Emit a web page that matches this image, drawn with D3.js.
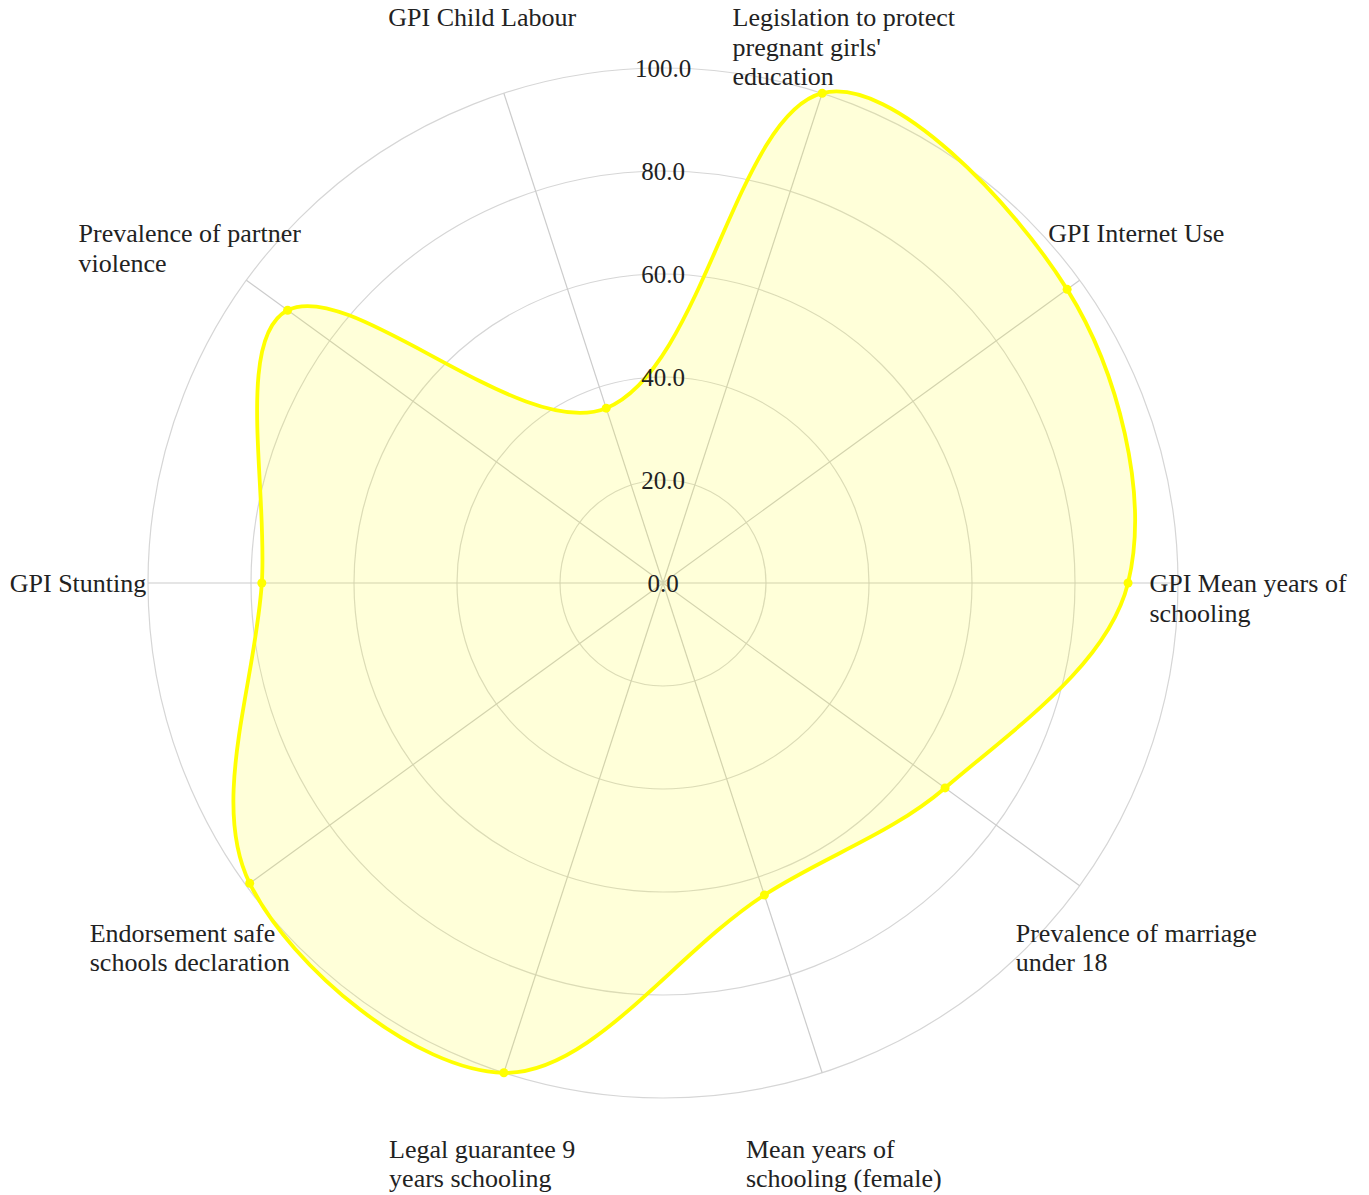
<!DOCTYPE html>
<html>
<head>
<meta charset="utf-8">
<script src="https://cdn.jsdelivr.net/npm/d3@7"></script>
<style>
  html, body { margin: 0; padding: 0; background: #ffffff; }
  svg { display: block; }
</style>
</head>
<body>
<svg id="chart" width="1369" height="1195"></svg>
<script>
// ---- data ----
const categories = [
  ["Legislation to protect", "pregnant girls'", "education"],
  ["GPI Internet Use"],
  ["GPI Mean years of", "schooling"],
  ["Prevalence of marriage", "under 18"],
  ["Mean years of", "schooling (female)"],
  ["Legal guarantee 9", "years schooling"],
  ["Endorsement safe", "schools declaration"],
  ["GPI Stunting"],
  ["Prevalence of partner", "violence"],
  ["GPI Child Labour"]
];
const values = [100, 97, 90.3, 67.7, 63.7, 100, 99.2, 77.9, 90.1, 35.7];
const tickValues = [0, 20, 40, 60, 80, 100];
const tickLabels = ["0.0", "20.0", "40.0", "60.0", "80.0", "100.0"];

// ---- layout ----
const W = 1369, H = 1195;
const cx = 663, cy = 583, R = 515;
const startAngle = 18 * Math.PI / 180;
const n = categories.length;
const font = "'Liberation Serif', 'Times New Roman', serif";

const svg = d3.select("#chart");
const g = svg.append("g").attr("transform", `translate(${cx},${cy})`);

const r = d3.scaleLinear().domain([0, 100]).range([0, R]);
const angle = i => startAngle + i * 2 * Math.PI / n; // clockwise from north
const px = (i, v) => r(v) * Math.sin(angle(i));
const py = (i, v) => -r(v) * Math.cos(angle(i));

// grid circles
g.append("g").selectAll("circle").data(tickValues.filter(d => d > 0)).join("circle")
  .attr("r", d => r(d))
  .attr("fill", "none")
  .attr("stroke", "#d6d6d6")
  .attr("stroke-width", 1.2);

// radial lines
g.append("g").selectAll("line").data(d3.range(n)).join("line")
  .attr("x1", 0).attr("y1", 0)
  .attr("x2", i => px(i, 100)).attr("y2", i => py(i, 100))
  .attr("stroke", "#cccccc")
  .attr("stroke-width", 1.2);

// Chart.js-like spline curve (tension-based, distance weighted), closed
function SplineClosed(context) { this._context = context; this._t = 0.34; }
SplineClosed.prototype = {
  areaStart() {}, areaEnd() {},
  lineStart() { this._pts = []; },
  point(x, y) { this._pts.push([+x, +y]); },
  lineEnd() {
    const p = this._pts, m = p.length, t = this._t, c = this._context;
    if (!m) return;
    const cps = p.map((cur, i) => {
      const prev = p[(i - 1 + m) % m], next = p[(i + 1) % m];
      const d01 = Math.hypot(cur[0] - prev[0], cur[1] - prev[1]);
      const d12 = Math.hypot(next[0] - cur[0], next[1] - cur[1]);
      const s01 = d01 / (d01 + d12) || 0, s12 = d12 / (d01 + d12) || 0;
      const fa = t * s01, fb = t * s12;
      return {
        prev: [cur[0] - fa * (next[0] - prev[0]), cur[1] - fa * (next[1] - prev[1])],
        next: [cur[0] + fb * (next[0] - prev[0]), cur[1] + fb * (next[1] - prev[1])]
      };
    });
    c.moveTo(p[0][0], p[0][1]);
    for (let i = 0; i < m; i++) {
      const j = (i + 1) % m;
      c.bezierCurveTo(cps[i].next[0], cps[i].next[1], cps[j].prev[0], cps[j].prev[1], p[j][0], p[j][1]);
    }
    c.closePath();
  }
};
const splineCurve = ctx => new SplineClosed(ctx);

const line = d3.line()
  .x((d, i) => px(i, d))
  .y((d, i) => py(i, d))
  .curve(splineCurve);

g.append("path")
  .datum(values)
  .attr("d", line)
  .attr("fill", "rgba(255,255,0,0.15)")
  .attr("stroke", "#ffff00")
  .attr("stroke-width", 3.8)
  .attr("stroke-linejoin", "round");

g.append("g").selectAll("circle").data(values).join("circle")
  .attr("cx", (d, i) => px(i, d))
  .attr("cy", (d, i) => py(i, d))
  .attr("r", 4.5)
  .attr("fill", "#ffff00");

// tick labels
g.append("g").selectAll("text").data(tickValues).join("text")
  .attr("x", 0)
  .attr("y", d => -r(d))
  .attr("text-anchor", "middle")
  .attr("dominant-baseline", "central")
  .attr("font-family", font)
  .attr("font-size", 25)
  .attr("fill", "#222")
  .text((d, i) => tickLabels[i]);

// category labels
const labelG = g.append("g");
categories.forEach((lines, i) => {
  const a = angle(i);
  const ax = 585 / 515 * R * Math.sin(a);
  const ay = -595 / 515 * R * Math.cos(a);
  const t = labelG.append("text")
    .attr("font-family", font)
    .attr("font-size", 26)
    .attr("fill", "#222")
    .attr("dominant-baseline", "central");
  lines.forEach((s, k) => {
    t.append("tspan").attr("x", 0).attr("y", ay + k * 29.5).text(s);
  });
  let maxW = 0;
  t.selectAll("tspan").each(function () { maxW = Math.max(maxW, this.getComputedTextLength()); });
  t.selectAll("tspan").attr("x", ax - maxW / 2);
});
</script>
</body>
</html>
